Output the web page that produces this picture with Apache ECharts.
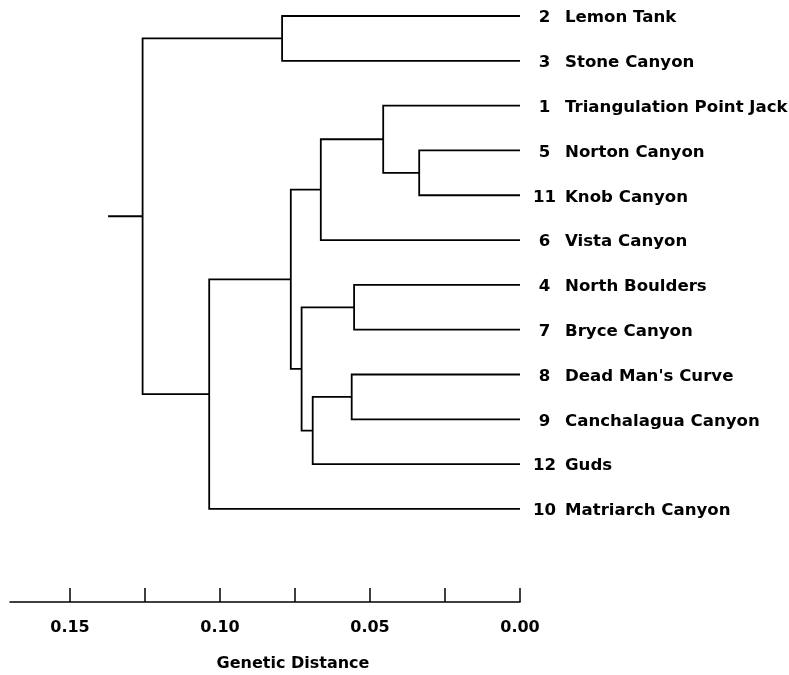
<!DOCTYPE html>
<html>
<head>
<meta charset="utf-8">
<script src="https://cdn.jsdelivr.net/npm/echarts@6/dist/echarts.min.js"></script>
<style>
html,body{margin:0;padding:0;background:#fff;}
#chart{width:789px;height:675px;}
</style>
</head>
<body>
<div id="chart"></div>
<script>
// Leaves, top to bottom
var leafNumbers = ['2', '3', '1', '5', '11', '6', '4', '7', '8', '9', '12', '10'];
var leafNames = ['Lemon Tank', 'Stone Canyon', 'Triangulation Point Jack', 'Norton Canyon', 'Knob Canyon',
  'Vista Canyon', 'North Boulders', 'Bryce Canyon', "Dead Man's Curve", 'Canchalagua Canyon', 'Guds', 'Matriarch Canyon'];

// Internal nodes (ids 12..22): children ids and join height (genetic distance)
var mergeLeft   = [3,      2,      13,     8,      15,     6,      17,     14,     0,      19,     20];
var mergeRight  = [4,      12,     5,      9,      10,     7,      16,     18,     1,      11,     21];
var mergeHeight = [0.0336, 0.0456, 0.0664, 0.0561, 0.0691, 0.0553, 0.0728, 0.0764, 0.0793, 0.1036, 0.1258];
var rootStub = 0.1373;

// Axis
var tickValues = [0, 0.025, 0.05, 0.075, 0.10, 0.125, 0.15];
var labelValues = [0, 0.05, 0.10, 0.15];
var axisMax = 0.17;
var axisTitle = 'Genetic Distance';

// ---- build tree geometry in data space ----
var nLeaf = leafNames.length;
var nodeX = [], nodeY = [];
for (var i = 0; i < nLeaf; i++) { nodeX.push(0); nodeY.push(i); }
var branches = [];
for (var k = 0; k < mergeHeight.length; k++) {
  var a = mergeLeft[k], b = mergeRight[k], h = mergeHeight[k];
  var ya = nodeY[a], yb = nodeY[b];
  branches.push({coords: [[nodeX[a], ya], [h, ya], [h, yb], [nodeX[b], yb]]});
  nodeX.push(h); nodeY.push((ya + yb) / 2);
}
var rootId = nodeX.length - 1;
branches.push({coords: [[nodeX[rootId], nodeY[rootId]], [rootStub, nodeY[rootId]]]});

var tips = [];
for (var j = 0; j < nLeaf; j++) tips.push([0, j, leafNumbers[j], leafNames[j]]);

var FONT = '"DejaVu Sans", "Liberation Sans", Arial, sans-serif';
var chart = echarts.init(document.getElementById('chart'), null, {renderer: 'canvas'});
chart.setOption({
  backgroundColor: '#fff',
  animation: false,
  grid: {left: 10, right: 269, top: 0, bottom: 73, containLabel: false},
  xAxis: {
    type: 'value', min: 0, max: axisMax, inverse: true, position: 'bottom',
    splitLine: {show: false},
    axisLine: {show: true, onZero: false, lineStyle: {color: '#000', width: 1.5}},
    axisTick: {show: true, inside: true, length: 14, customValues: tickValues, lineStyle: {color: '#000', width: 1.5}},
    axisLabel: {
      show: true, customValues: labelValues, margin: 18,
      color: '#000', fontFamily: FONT, fontWeight: 'bold', fontSize: 16,
      formatter: function (v) { return v.toFixed(2); }
    }
  },
  yAxis: {type: 'value', inverse: true, min: -0.357, max: 13.076, show: false},
  graphic: [{
    type: 'text', x: 293, y: 664,
    style: {text: axisTitle, fill: '#000', font: 'bold 16px ' + FONT, align: 'center', verticalAlign: 'middle'}
  }],
  series: [
    {
      type: 'lines', coordinateSystem: 'cartesian2d', polyline: true, silent: true,
      lineStyle: {color: '#000', width: 1.8, opacity: 1},
      data: branches
    },
    {
      type: 'scatter', symbolSize: 0, silent: true,
      itemStyle: {opacity: 1},
      data: tips,
      label: {
        show: true, position: 'right', distance: 9, color: '#000', opacity: 1, offset: [0, 2],
        formatter: function (p) { return '{n|' + p.data[2] + '}{t|' + p.data[3] + '}'; },
        rich: {
          n: {width: 31, align: 'right', color: '#000', fontFamily: FONT, fontWeight: 'bold', fontSize: 16.6},
          t: {padding: [0, 0, 0, 5], color: '#000', fontFamily: FONT, fontWeight: 'bold', fontSize: 16.6}
        }
      }
    }
  ]
});
</script>
</body>
</html>
